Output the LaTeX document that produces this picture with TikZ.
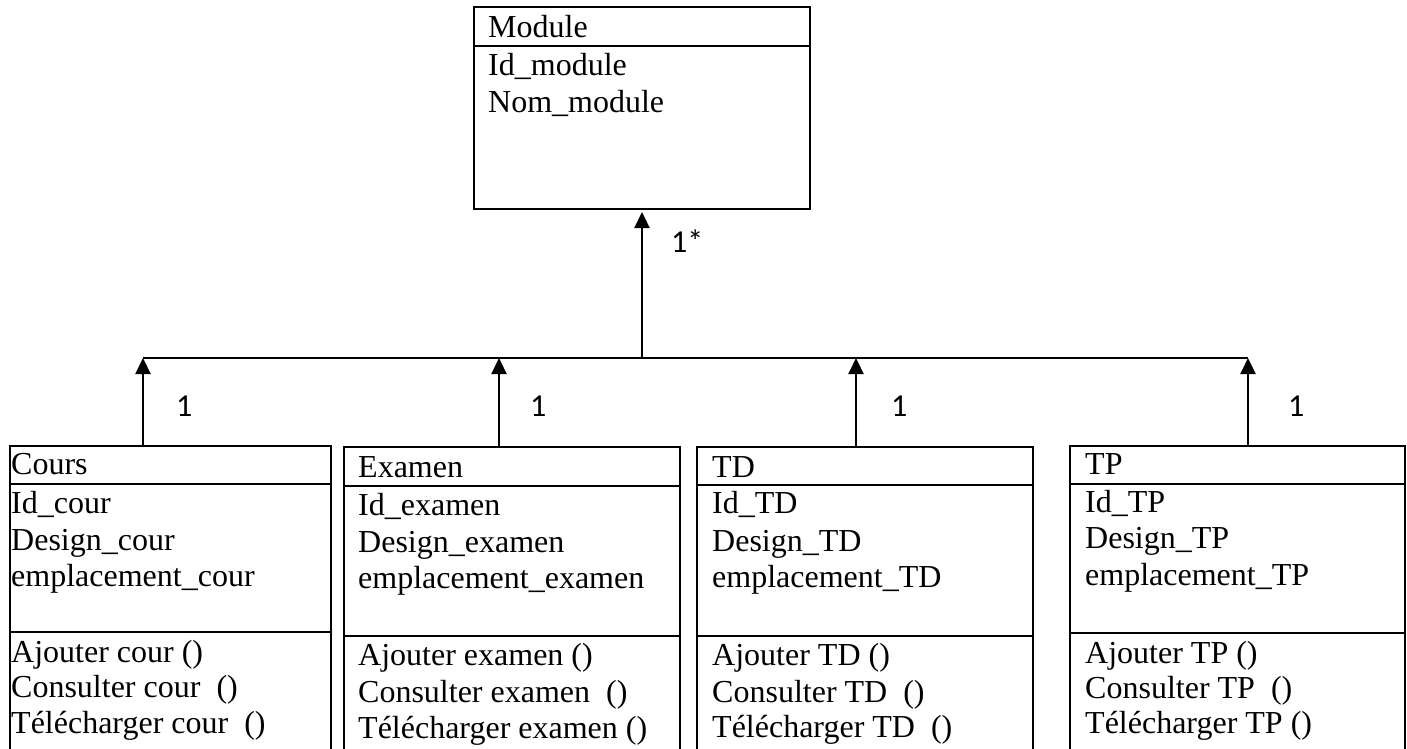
\documentclass[tikz,border=0pt]{standalone}
\usepackage{fontspec}
\setmainfont{Liberation Serif}
\newfontfamily\multfont{Carlito}
\usetikzlibrary{arrows.meta}
\begin{document}
\begin{tikzpicture}[x=1pt,y=-1pt,
  classbox/.style={draw,line width=2.8pt,rectangle,anchor=north west,inner sep=0pt,outer sep=0pt},
  rule/.style={line width=2.8pt},
  member/.style={anchor=base west,inner sep=0pt,font=\fontsize{32}{36}\selectfont},
  mult/.style={anchor=base west,inner sep=0pt,font=\multfont\fontsize{32}{36}\selectfont},
  assoc/.style={line width=2.3pt,-{Triangle[length=16pt,width=15pt]}},
  bus/.style={line width=2.3pt}]
\useasboundingbox (0,0) rectangle (1407,748);
\clip (0,0) rectangle (1407,748);

% ---- Module ----
\node[classbox,minimum width=336pt,minimum height=202pt] (module) at (474,7) {};
\draw[rule] (474,46) -- (810,46);
\node[member] (module-name) at (488,37) {Module};
\node[member] (module-a1) at (488,75) {Id\_module};
\node[member] (module-a2) at (488,112) {Nom\_module};

% ---- Cours ----
\node[classbox,minimum width=321pt,minimum height=330pt] (cours) at (10,446) {};
\draw[rule] (10,484) -- (331,484);
\draw[rule] (10,632) -- (331,632);
\node[member] (cours-name) at (11,474) {Cours};
\node[member] (cours-a1) at (11,513) {Id\_cour};
\node[member] (cours-a2) at (11,550) {Design\_cour};
\node[member] (cours-a3) at (11,586) {emplacement\_cour};
\node[member] (cours-m1) at (11,662) {Ajouter cour ()};
\node[member] (cours-m2) at (11,697) {Consulter cour\ \ ()};
\node[member] (cours-m3) at (11,733) {Télécharger cour\ \ ()};

% ---- Examen ----
\node[classbox,minimum width=336pt,minimum height=330pt] (examen) at (344,447) {};
\draw[rule] (344,486) -- (680,486);
\draw[rule] (344,636) -- (680,636);
\node[member] (examen-name) at (358,477) {Examen};
\node[member] (examen-a1) at (358,515) {Id\_examen};
\node[member] (examen-a2) at (358,552) {Design\_examen};
\node[member] (examen-a3) at (358,588) {emplacement\_examen};
\node[member] (examen-m1) at (358,665) {Ajouter examen ()};
\node[member] (examen-m2) at (358,702) {Consulter examen\ \ ()};
\node[member] (examen-m3) at (358,738) {Télécharger examen ()};

% ---- TD ----
\node[classbox,minimum width=336pt,minimum height=330pt] (td) at (697,447) {};
\draw[rule] (697,485) -- (1033,485);
\draw[rule] (697,636) -- (1033,636);
\node[member] (td-name) at (712,477) {TD};
\node[member] (td-a1) at (712,513) {Id\_TD};
\node[member] (td-a2) at (712,551) {Design\_TD};
\node[member] (td-a3) at (712,587) {emplacement\_TD};
\node[member] (td-m1) at (712,665) {Ajouter TD ()};
\node[member] (td-m2) at (712,702) {Consulter TD\ \ ()};
\node[member] (td-m3) at (712,737) {Télécharger TD\ \ ()};

% ---- TP ----
\node[classbox,minimum width=335pt,minimum height=330pt] (tp) at (1070,446) {};
\draw[rule] (1070,484) -- (1405,484);
\draw[rule] (1070,633) -- (1405,633);
\node[member] (tp-name) at (1085,474) {TP};
\node[member] (tp-a1) at (1085,512) {Id\_TP};
\node[member] (tp-a2) at (1085,548) {Design\_TP};
\node[member] (tp-a3) at (1085,585) {emplacement\_TP};
\node[member] (tp-m1) at (1085,663) {Ajouter TP ()};
\node[member] (tp-m2) at (1085,698) {Consulter TP\ \ ()};
\node[member] (tp-m3) at (1085,733) {Télécharger TP ()};

% ---- associations ----
\coordinate (junction) at (642,358);
\coordinate (cours-port) at (143,446);
\coordinate (examen-port) at (499,447);
\coordinate (td-port) at (856,447);
\coordinate (tp-port) at (1248,446);

\draw[bus] (cours-port |- junction) -- (tp-port |- junction);
\draw[assoc,shorten >=3pt] (junction) -- (module.south);
\draw[assoc] (cours-port) -- (cours-port |- junction);
\draw[assoc] (examen-port) -- (examen-port |- junction);
\draw[assoc] (td-port) -- (td-port |- junction);
\draw[assoc] (tp-port) -- (tp-port |- junction);

\node[mult] (mult-module) at (671,252) {1*};
\node[mult] (mult-cours) at (176,416) {1};
\node[mult] (mult-examen) at (530,416) {1};
\node[mult] (mult-td) at (891,416) {1};
\node[mult] (mult-tp) at (1288,416) {1};
\end{tikzpicture}
\end{document}
